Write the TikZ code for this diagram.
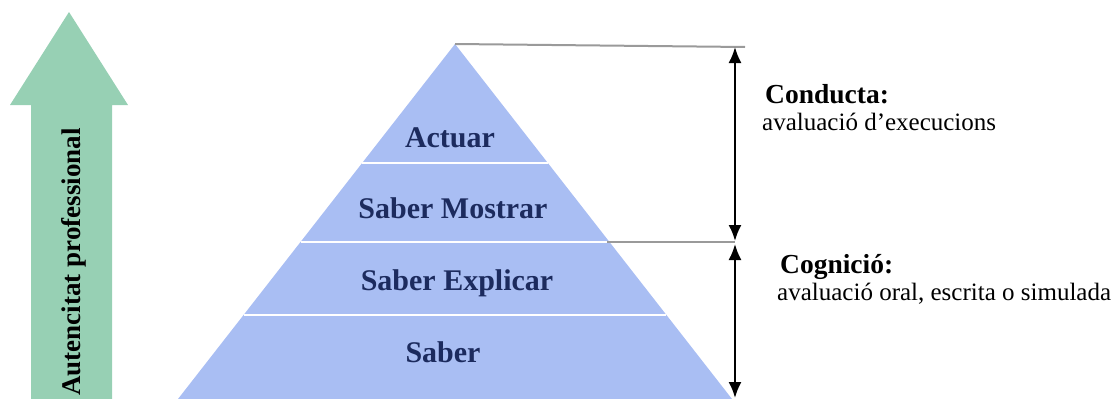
\documentclass[tikz,border=0pt]{standalone}
\usepackage{fontspec}
\setmainfont{Liberation Serif}
\usetikzlibrary{positioning,arrows.meta}

\definecolor{pyrblue}{HTML}{A9BEF3}
\definecolor{arrowgreen}{HTML}{97D0B4}
\definecolor{layernavy}{HTML}{1C2B5E}
\definecolor{rulegray}{HTML}{9A9A9A}

\tikzset{
	layer/.style={anchor=base, text=layernavy, inner sep=0pt, font=\fontsize{30}{36}\selectfont\bfseries},
	headtext/.style={anchor=base west, inner sep=0pt, font=\fontsize{27.5}{32}\selectfont\bfseries},
	subtext/.style={anchor=base west, inner sep=0pt, font=\fontsize{25}{30}\selectfont},
	rangearrow/.style={black, line width=2pt, {Latex[length=16pt,width=13pt]}-{Latex[length=16pt,width=13pt]}},
	guide/.style={rulegray, line width=2pt}
}

\begin{document}
\begin{tikzpicture}[x=1pt,y=-1pt]

	\useasboundingbox (0,0) rectangle (1117,399);

	\fill[arrowgreen] (31,399) -- (31,105) -- (10,105) -- (69,12) -- (128,105) -- (112,105) -- (112,399) -- cycle;
	\node[rotate=90, anchor=base, inner sep=0pt, font=\fontsize{27}{32}\selectfont\bfseries] (auth) at (80,262) {Autencitat professional};

	\fill[pyrblue] (455,44) -- (732,399) -- (178,399) -- cycle;
	\draw[white, line width=2pt] (362,163) -- (548,163);
	\draw[white, line width=2pt] (301,242) -- (609,242);
	\draw[white, line width=2pt] (244,315) -- (666,315);

	\node[layer] (actuar) at (450,147) {Actuar};
	\node[layer] (mostrar) at (453,218) {Saber Mostrar};
	\node[layer] (explicar) at (457,290) {Saber Explicar};
	\node[layer] (saber) at (443,362) {Saber};

	\coordinate (apex) at (455,44);
	\coordinate (topend) at (745,47);
	\coordinate (midstart) at (607,242);
	\coordinate (midend) at (735,242);
	\coordinate (toptip) at (735,47);
	\coordinate (midtop) at (735,241);
	\coordinate (midbot) at (735,244);
	\coordinate (bottip) at (735,398);

	\draw[guide] (apex) -- (topend);
	\draw[guide] (midstart) -- (midend);
	\draw[rangearrow] (toptip) -- (midtop);
	\draw[rangearrow] (midbot) -- (bottip);

	\node[headtext] (conducta) at (765,103) {Conducta:};
	\node[subtext] (execucions) at (762,130) {avaluació d’execucions};
	\node[headtext] (cognicio) at (780,273) {Cognició:};
	\node[subtext] (simulada) at (777,300) {avaluació oral, escrita o simulada};

\end{tikzpicture}
\end{document}
